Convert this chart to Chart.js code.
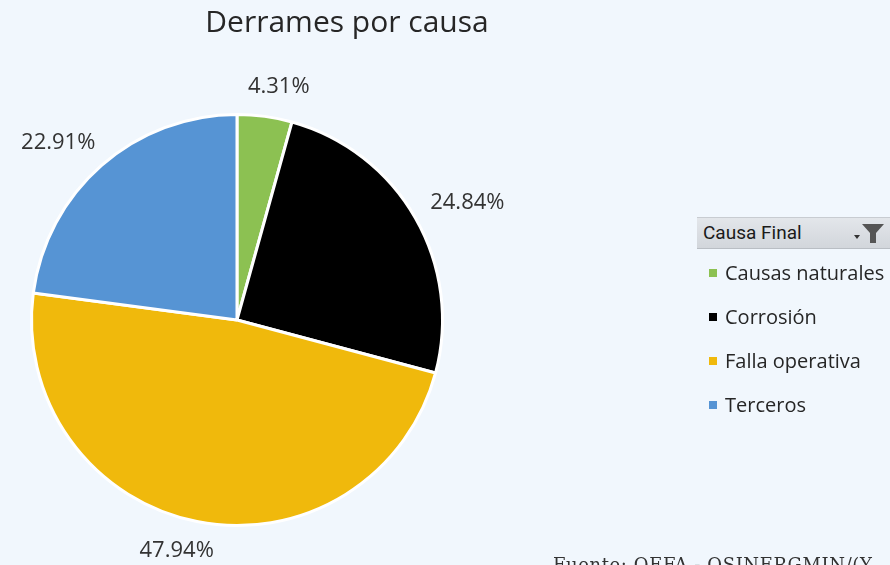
<!DOCTYPE html>
<html>
<head>
<meta charset="utf-8">
<script src="https://cdn.jsdelivr.net/npm/chart.js@4/dist/chart.umd.min.js"></script>
<style>
  html, body { margin: 0; padding: 0; }
  body {
    width: 890px; height: 565px; overflow: hidden; position: relative;
    background: #f1f7fd; font-family: "Open Sans", "Noto Sans", sans-serif;
  }
  #wrap { position: absolute; left: 0; top: 0; width: 890px; height: 565px; }
  #title {
    position: absolute; left: 0; width: 694px; top: 0px; text-align: center;
    font-size: 30px; color: #262626;
  }
  #legend { position: absolute; left: 697px; top: 217px; width: 193px; }
  #legend .head {
    height: 30px; background: linear-gradient(#e3e6ea, #d2d6db);
    border-top: 1px solid #c8ccd1; border-bottom: 1px solid #b9bec4;
    position: relative; font-family: "Liberation Sans Narrow", "Roboto", sans-serif;
    font-size: 19px; color: #1a1a1a; line-height: 30px; padding-left: 6px;
  }
  #legend .head svg { position: absolute; right: 4px; top: 4px; }
  #legend .item {
    height: 44px; line-height: 44px; font-size: 20px; color: #262626;
    position: relative; padding-left: 28px;
  }
  #legend .item span.sw {
    position: absolute; left: 12px; top: 18px; width: 8px; height: 8px;
  }
  #legend .items { margin-top: 2px; }
  #source {
    position: absolute; left: 553px; top: 554px; white-space: nowrap; letter-spacing: 0.6px;
    font-family: "DejaVu Serif", "Liberation Serif", serif; font-size: 18px; color: #333;
  }
</style>
</head>
<body>
<div id="wrap"><canvas id="pie" width="890" height="565"></canvas></div>
<div id="title">Derrames por causa</div>
<div id="legend">
  <div class="head">Causa Final
    <svg width="34" height="22" viewBox="0 0 34 22">
      <polygon points="2,13 8,13 5,17" fill="#333"/>
      <polygon points="10,2 32,2 24,11 24,21 18,21 18,11" fill="#555"/>
    </svg>
  </div>
  <div class="items" id="legendItems"></div>
</div>
<div id="source">Fuente: OEFA - OSINERGMIN/(Y...</div>

<script>
// datos del gráfico
var causas = ['Causas naturales', 'Corrosión', 'Falla operativa', 'Terceros'];
var porcentajes = [4.31, 24.84, 47.94, 22.91];
var colores = ['#8cc152', '#000000', '#f0b90c', '#5694d4'];

// leyenda en HTML
var $items = document.getElementById('legendItems');
causas.forEach(function(c, i) {
    var d = document.createElement('div');
    d.className = 'item';
    d.innerHTML = '<span class="sw" style="background:' + colores[i] + '"></span>' + c;
    $items.appendChild(d);
});

// etiquetas de porcentaje fuera de la torta
var outsideLabels = {
    id: 'outsideLabels',
    afterDatasetsDraw: function(chart) {
        var ctx = chart.ctx;
        var meta = chart.getDatasetMeta(0);
        ctx.save();
        ctx.font = '22px "Open Sans", "Noto Sans", sans-serif';
        ctx.fillStyle = '#333333';
        ctx.textAlign = 'center';
        ctx.textBaseline = 'middle';
        meta.data.forEach(function(arc, i) {
            var p = arc.getProps(['x', 'y', 'startAngle', 'endAngle', 'outerRadius'], true);
            var mid = (p.startAngle + p.endAngle) / 2;
            var txt = porcentajes[i].toFixed(2) + '%';
            var w = ctx.measureText(txt).width;
            var pad = 20;
            var dx = Math.cos(mid), dy = Math.sin(mid);
            // desplazamiento horizontal tipo "ajuste óptimo" de Excel
            var x = p.x + dx * (p.outerRadius + pad) + Math.sign(dx) * Math.sqrt(Math.abs(dx)) * w / 2;
            var y = p.y + dy * (p.outerRadius + pad) + dy * 10;
            ctx.fillText(txt, x, y);
        });
        ctx.restore();
    }
};

new Chart(document.getElementById('pie').getContext('2d'), {
    type: 'pie',
    data: {
        labels: causas,
        datasets: [{
            data: porcentajes,
            backgroundColor: colores,
            borderColor: '#ffffff',
            borderWidth: 3
        }]
    },
    options: {
        responsive: false,
        animation: false,
        layout: { padding: { left: 30, right: 446, top: 113, bottom: 38 } },
        plugins: {
            legend: { display: false },
            tooltip: { enabled: false },
            title: { display: false }
        }
    },
    plugins: [outsideLabels]
});
</script>
</body>
</html>
